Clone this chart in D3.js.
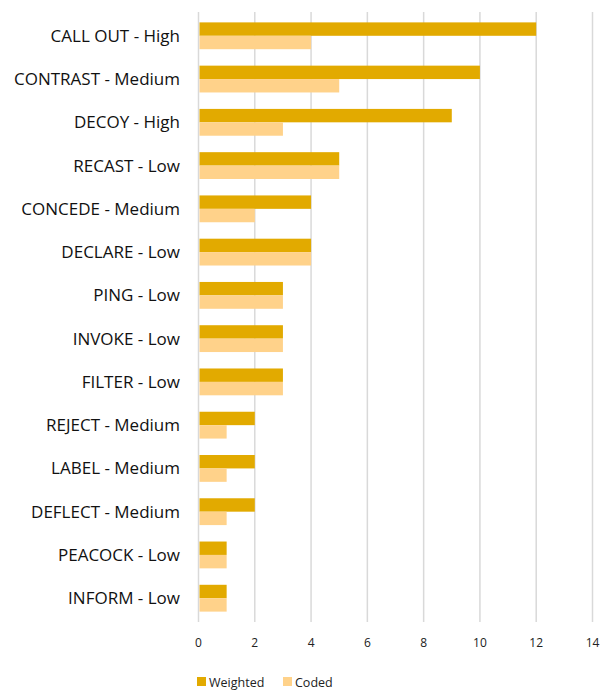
<!DOCTYPE html>
<html lang="en">
<head>
  <meta charset="UTF-8" />
  <title>Weighted vs Coded</title>
  <script src="https://d3js.org/d3.v7.min.js"></script>
  <style>
    body { margin: 0; background: #fff; font-family: "Open Sans", "Liberation Sans", sans-serif; }
    .grid line { stroke: #d9d9d9; stroke-width: 1.5px; }
    .cat { fill: #111; font-size: 17px; }
    .tick-label { fill: #222; font-size: 12px; }
    .legend text { fill: #222; font-size: 12.5px; }
  </style>
</head>
<body>
  <svg width="600" height="690"></svg>
  <script>
    const categories = ["CALL OUT - High", "CONTRAST - Medium", "DECOY - High", "RECAST - Low",
      "CONCEDE - Medium", "DECLARE - Low", "PING - Low", "INVOKE - Low", "FILTER - Low",
      "REJECT - Medium", "LABEL - Medium", "DEFLECT - Medium", "PEACOCK - Low", "INFORM - Low"];
    const weighted = [12, 10, 9, 5, 4, 4, 3, 3, 3, 2, 2, 2, 1, 1];
    const coded = [4, 5, 3, 5, 2, 4, 3, 3, 3, 1, 1, 1, 1, 1];
    const seriesNames = ["Weighted", "Coded"];
    const colors = ["#e2aa00", "#ffd28a"];
    const xTicks = [0, 2, 4, 6, 8, 10, 12, 14];

    const svg = d3.select("svg");
    const plotLeft = 198.5, plotRight = 592.5, plotTop = 12, plotBottom = 622;

    const x = d3.scaleLinear().domain([0, 14]).range([plotLeft, plotRight]);
    const y = d3.scaleBand().domain(categories).range([plotTop, plotBottom])
      .paddingInner(0.38).paddingOuter(0.24);
    const ySub = d3.scaleBand().domain(seriesNames).range([0, y.bandwidth()]);

    // gridlines
    svg.append("g").attr("class", "grid")
      .selectAll("line").data(xTicks).join("line")
      .attr("x1", d => x(d)).attr("x2", d => x(d))
      .attr("y1", plotTop).attr("y2", plotBottom);

    const rows = categories.map((c, i) => ({ cat: c, vals: [weighted[i], coded[i]] }));

    const g = svg.append("g").selectAll("g").data(rows).join("g")
      .attr("transform", d => `translate(0,${y(d.cat)})`);

    g.selectAll("rect").data(d => d.vals.map((v, j) => ({ name: seriesNames[j], v, j })))
      .join("rect")
      .attr("x", x(0) + 1)
      .attr("y", d => ySub(d.name))
      .attr("width", d => x(d.v) - x(0) - 1)
      .attr("height", ySub.bandwidth())
      .attr("fill", d => colors[d.j]);

    // category labels
    svg.append("g").selectAll("text").data(categories).join("text")
      .attr("class", "cat")
      .attr("x", 180)
      .attr("y", d => y(d) + y.bandwidth() / 2)
      .attr("dy", "0.35em")
      .attr("text-anchor", "end")
      .text(d => d);

    // x tick labels
    svg.append("g").selectAll("text").data(xTicks).join("text")
      .attr("class", "tick-label")
      .attr("x", d => x(d))
      .attr("y", 647)
      .attr("text-anchor", "middle")
      .text(d => d);

    // legend
    const legendX = [197, 283];
    const lg = svg.append("g").attr("class", "legend")
      .selectAll("g").data(seriesNames).join("g")
      .attr("transform", (d, i) => `translate(${legendX[i]},677)`);
    lg.append("rect").attr("width", 9).attr("height", 9).attr("fill", (d, i) => colors[i]);
    lg.append("text").attr("x", 12).attr("y", 9.5).text(d => d);
  </script>
</body>
</html>
